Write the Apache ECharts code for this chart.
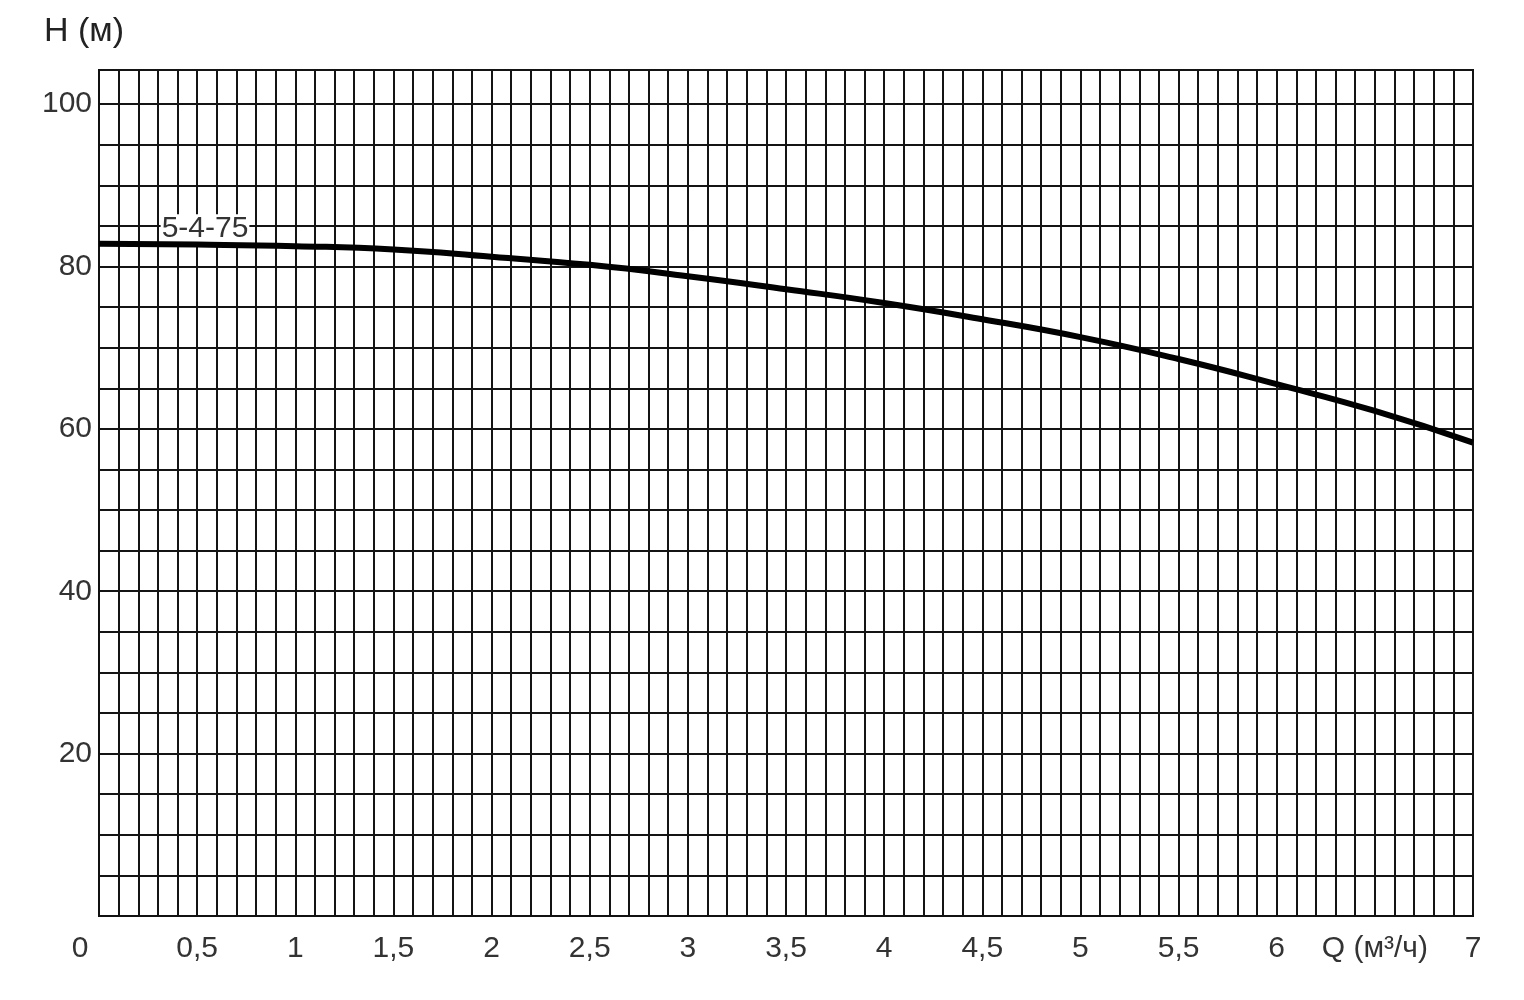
<!DOCTYPE html>
<html>
<head>
<meta charset="utf-8">
<script src="https://cdn.jsdelivr.net/npm/echarts@6/dist/echarts.min.js"></script>
<style>html,body{margin:0;padding:0;background:#fff;}#c{width:1524px;height:1000px;}</style>
</head>
<body>
<div id="c"></div>
<script>
// Q (m3/h) and H (m)
const flowQ = [0, 0.5, 1, 1.5, 2, 2.5, 3, 3.5, 4, 4.5, 5, 5.5, 6, 6.5, 7];
const headH = [82.8, 82.7, 82.5, 82.1, 81.2, 80.2, 78.8, 77.2, 75.5, 73.5, 71.3, 68.6, 65.5, 62.2, 58.3];
const seriesName = '5-4-75';
const yTickLabels = [20, 40, 60, 80, 100];
const xTickLabels = ['0', '0,5', '1', '1,5', '2', '2,5', '3', '3,5', '4', '4,5', '5', '5,5', '6', 'Q (м³/ч)', '7'];
const yAxisTitle = 'H (м)';

const chart = echarts.init(document.getElementById('c'));
const font = 'Liberation Sans, Arial, sans-serif';
const gridLine = { color: '#141414', width: 2 };
const fs = 30;

chart.setOption({
  animation: false,
  backgroundColor: '#fff',
  grid: { left: 99, right: 51, top: 70, bottom: 84, show: true, borderColor: '#111', borderWidth: 2, backgroundColor: 'transparent' },
  xAxis: {
    type: 'value', min: 0, max: 7, interval: 0.1,
    axisLine: { show: true, lineStyle: { color: '#111', width: 2 } },
    axisTick: { show: false },
    splitLine: { show: true, lineStyle: gridLine },
    axisLabel: {
      margin: 18, fontSize: fs, color: '#333', fontFamily: font,
      showMinLabel: true, showMaxLabel: true,
      formatter: function (v) {
        const k = Math.round(v * 2);
        if (Math.abs(v * 2 - k) > 1e-6) return '';
        const s = xTickLabels[k] || '';
        if (k === 0) return '{z|' + s + '}';
        return s;
      },
      rich: { z: { fontSize: fs, color: '#333', fontFamily: font, padding: [0, 38, 0, 0] } }
    }
  },
  yAxis: {
    type: 'value', min: 0, max: 104.2, interval: 5,
    axisLine: { show: true, lineStyle: { color: '#111', width: 2 } },
    axisTick: { show: false },
    splitLine: { show: true, lineStyle: gridLine },
    axisLabel: {
      margin: 7, fontSize: fs, color: '#333', fontFamily: font,
      showMaxLabel: false,
      formatter: function (v) {
        const r = Math.round(v);
        return yTickLabels.indexOf(r) >= 0 && Math.abs(v - r) < 1e-6 ? String(r) : '';
      }
    }
  },
  graphic: [{
    type: 'text', left: 44, top: 15,
    style: { text: yAxisTitle, fontSize: 34, fill: '#222', fontFamily: font }
  }],
  series: [{
    name: seriesName,
    type: 'line',
    data: flowQ.map((q, i) => [q, headH[i]]),
    smooth: true,
    symbol: 'none',
    lineStyle: { color: '#000', width: 6 },
    z: 5,
    markPoint: {
      symbol: 'rect', symbolSize: 1,
      itemStyle: { color: 'transparent' },
      data: [{ coord: [0.54, 84.6], value: seriesName }],
      label: {
        show: true, position: 'inside', formatter: seriesName,
        fontSize: fs, color: '#333', fontFamily: font,
        backgroundColor: '#fff', padding: [0, 1, 0, 1]
      }
    }
  }]
});
</script>
</body>
</html>
